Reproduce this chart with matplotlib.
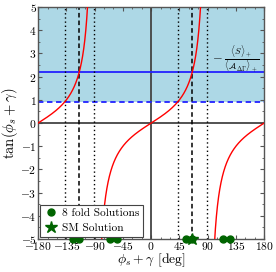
import numpy as np
import matplotlib
matplotlib.use("Agg")
import matplotlib.pyplot as plt
from matplotlib.ticker import MultipleLocator

plt.rcParams['font.family'] = 'serif'
plt.rcParams['font.serif'] = ['cmr10']
plt.rcParams['mathtext.fontset'] = 'cm'
plt.rcParams['axes.formatter.use_mathtext'] = True

# data
ratio_central = 2.19          # -<S>+/<A>+
ratio_lower = 0.93
dashed_deg = [-114.5, 65.5]
dotted_deg = [-137.0, -91.0, 43.0, 89.0]
solutions_deg = [-125, -115, -65, -55, 55, 65, 115, 125]
sm_solution_deg = [65.5]
xticks = [-180, -135, -90, -45, 0, 45, 90, 135, 180]
yticks = [-5, -4, -3, -2, -1, 0, 1, 2, 3, 4, 5]

fig = plt.figure(figsize=(2.76, 2.72), dpi=100)
ax = fig.add_axes([0.138, 0.121, 0.819, 0.853])

ax.axhspan(ratio_lower, 5, color='#add8e6', zorder=0, lw=0)

for a, b in [(-180, -90), (-90, 90), (90, 180)]:
    x = np.linspace(a + 1e-3, b - 1e-3, 2000)
    y = np.tan(np.radians(x))
    y = np.where(np.abs(y) > 6, np.nan, y)
    ax.plot(x, y, color='red', lw=1.0, zorder=3)

ax.axhline(0, color='#444444', lw=1.3, zorder=2)
ax.axvline(0, color='#444444', lw=1.3, zorder=2)
ax.axhline(ratio_central, color='#2222ff', lw=1.3, zorder=2)
ax.axhline(ratio_lower, color='#2222ff', lw=1.3, ls=(0, (3, 2)), zorder=2)
for d in dashed_deg:
    ax.axvline(d, color='black', lw=1.1, ls=(0, (3, 2)), zorder=2)
for d in dotted_deg:
    ax.axvline(d, color='black', lw=1.0, ls=(0, (1, 2)), zorder=2)

ax.plot(solutions_deg, [-5] * len(solutions_deg), 'o', color='#006400', ms=5,
        clip_on=False, zorder=5, label='8 fold Solutions', ls='none')
ax.plot(sm_solution_deg, [-5], '*', color='#006400', ms=9, clip_on=False,
        zorder=6, label='SM Solution', ls='none')

ax.text(135, 2.76, r'$-\;\frac{\langle S\rangle_+}{\langle \mathcal{A}_{\Delta\Gamma}\rangle_+}$',
        fontsize=9, ha='center', va='center')

ax.set_xlim(-180, 180)
ax.set_ylim(-5, 5)
ax.set_xticks(xticks)
ax.set_yticks(yticks)
ax.set_xticklabels([f'${t}$' for t in xticks])
ax.set_yticklabels([f'${t}$' for t in yticks])
ax.xaxis.set_minor_locator(MultipleLocator(15))
ax.yaxis.set_minor_locator(MultipleLocator(0.5))
ax.tick_params(which='both', direction='in', top=True, right=True, labelsize=8.3,
               color='#555555', pad=1)
ax.tick_params(which='major', length=3)
ax.tick_params(which='minor', length=1.5)
for s in ax.spines.values():
    s.set_color('#555555')
    s.set_linewidth(1.0)

ax.set_xlabel(r'$\phi_s+\gamma$ [deg]', fontsize=9.8, labelpad=-1)
ax.set_ylabel(r'$\tan(\phi_s+\gamma)$', fontsize=10.5, labelpad=0)

leg = ax.legend(loc='lower left', fontsize=8.2, frameon=True, fancybox=False,
                edgecolor='#444444', framealpha=1, borderaxespad=0.2,
                handletextpad=0.4, borderpad=0.3, labelspacing=0.45,
                handlelength=1.2)
leg.get_frame().set_linewidth(0.8)

fig.savefig('out.png', dpi=100)
